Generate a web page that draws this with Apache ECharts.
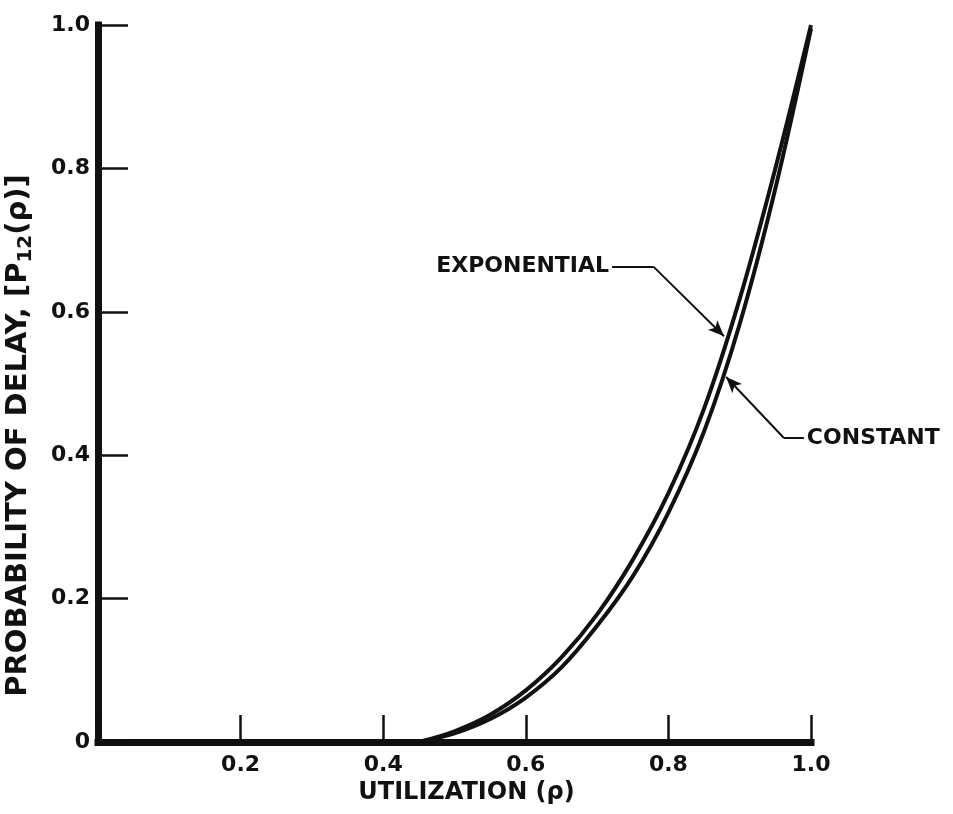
<!DOCTYPE html>
<html>
<head>
<meta charset="utf-8">
<script src="https://cdn.jsdelivr.net/npm/echarts@6/dist/echarts.min.js"></script>
<style>
  html, body { margin: 0; padding: 0; background: #fff; }
  #chart { width: 953px; height: 814px; }
</style>
</head>
<body>
<div id="chart"></div>
<script>
// values
const utilization = [0.45, 0.5, 0.55, 0.6, 0.65, 0.7, 0.75, 0.8, 0.85, 0.9, 0.95, 1.0];
const exponential = [0, 0.015, 0.038, 0.072, 0.118, 0.178, 0.254, 0.347, 0.465, 0.618, 0.8, 1.0];
const constant    = [0, 0.012, 0.032, 0.062, 0.104, 0.162, 0.231, 0.32, 0.433, 0.583, 0.772, 0.995];

const xTickLabels = ['', '0.2', '0.4', '0.6', '0.8', '1.0'];
const yTickLabels = ['0', '0.2', '0.4', '0.6', '0.8', '1.0'];

// leader lines for the two curve labels (data space)
const expLeader = { text: 'EXPONENTIAL', from: [0.721, 0.663], bend: [0.779, 0.663], tip: [0.878, 0.566] };
const conLeader = { text: 'CONSTANT', from: [0.990, 0.424], bend: [0.962, 0.424], tip: [0.881, 0.509] };

const ink = '#111';
const font = 'DejaVu Sans';

function pairs(xs, ys) {
    return xs.map((x, i) => [x, ys[i]]);
}

function leaderLines(l, pos) {
    return [
        [
            { coord: l.from, symbol: 'none',
              label: { show: true, position: pos, formatter: l.text, distance: 3,
                       fontSize: 22, fontWeight: 'bold', fontFamily: font, color: ink } },
            { coord: l.bend, symbol: 'none' }
        ],
        [
            { coord: l.bend, symbol: 'none', label: { show: false } },
            { coord: l.tip, symbol: 'arrow', symbolSize: [10, 16] }
        ]
    ];
}

const chart = echarts.init(document.getElementById('chart'), null, { renderer: 'canvas' });

const opt = {
    backgroundColor: '#fff',
    animation: false,
    grid: { left: 98, right: 142, top: 25, bottom: 72, outerBoundsMode: 'none', containLabel: false },
    xAxis: {
        type: 'value',
        min: 0,
        max: 1,
        interval: 0.2,
        name: 'UTILIZATION (ρ)',
        nameLocation: 'middle',
        nameGap: 36,
        nameTextStyle: { fontSize: 24, fontWeight: 'bold', fontFamily: font, color: ink, padding: [0, 0, 0, 24] },
        axisLine: { lineStyle: { color: ink, width: 7, cap: 'square' } },
        axisTick: { inside: true, length: 27, lineStyle: { color: ink, width: 2.5 } },
        axisLabel: {
            margin: 12, fontSize: 22, fontWeight: 'bold', fontFamily: font, color: ink,
            formatter: v => xTickLabels[Math.round(v / 0.2)]
        },
        splitLine: { show: false }
    },
    yAxis: {
        type: 'value',
        min: 0,
        max: 1,
        interval: 0.2,
        name: 'PROBABILITY OF DELAY, [P{sub|12}(ρ)]',
        nameLocation: 'middle',
        nameGap: 62,
        nameTextStyle: {
            fontSize: 29, fontWeight: 'bold', fontFamily: font, color: ink, padding: [0, 104, 0, 0],
            rich: { sub: { fontSize: 20, fontWeight: 'bold', fontFamily: font, color: ink, verticalAlign: 'bottom', padding: [15, 0, 0, 0] } }
        },
        axisLine: { lineStyle: { color: ink, width: 7, cap: 'square' } },
        axisTick: { inside: true, length: 30, lineStyle: { color: ink, width: 2.5 } },
        axisLabel: {
            margin: 8, fontSize: 22, fontWeight: 'bold', fontFamily: font, color: ink,
            formatter: v => yTickLabels[Math.round(v / 0.2)]
        },
        splitLine: { show: false }
    },
    series: [
        {
            name: 'Exponential',
            type: 'line',
            data: pairs(utilization, exponential),
            smooth: 0.35,
            showSymbol: false,
            lineStyle: { color: ink, width: 4 },
            markLine: {
                silent: true,
                symbol: ['none', 'none'],
                lineStyle: { color: ink, width: 2, type: 'solid' },
                itemStyle: { color: ink },
                label: { show: false },
                data: leaderLines(expLeader, 'start').concat(leaderLines(conLeader, 'start'))
            }
        },
        {
            name: 'Constant',
            type: 'line',
            data: pairs(utilization, constant),
            smooth: 0.35,
            showSymbol: false,
            lineStyle: { color: ink, width: 4 }
        }
    ]
};

chart.setOption(opt);
</script>
</body>
</html>
